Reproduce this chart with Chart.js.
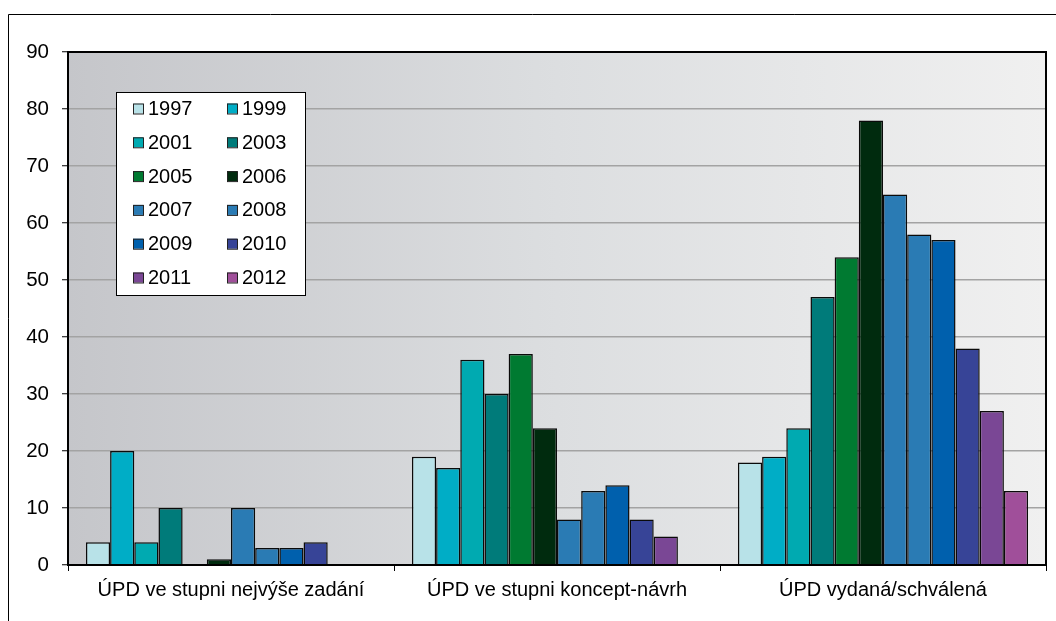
<!DOCTYPE html>
<html>
<head>
<meta charset="utf-8">
<script src="https://cdn.jsdelivr.net/npm/chart.js@4"></script>
<style>
  html, body { margin: 0; padding: 0; background: #fff; }
  #wrap { position: relative; width: 1056px; height: 621px; }
</style>
</head>
<body>
<div id="wrap"><canvas id="chart" width="1056" height="621"></canvas></div>
<script>
// Stav ÚPD podle let
const categories = ['ÚPD ve stupni nejvýše zadání', 'ÚPD ve stupni koncept-návrh', 'ÚPD vydaná/schválená'];
const years = ['1997', '1999', '2001', '2003', '2005', '2006', '2007', '2008', '2009', '2010', '2011', '2012'];
const zadani  = [4, 20, 4, 10, 0, 1, 10, 3, 3, 4, 0, 0];
const koncept = [19, 17, 36, 30, 37, 24, 8, 13, 14, 8, 5, 0];
const vydana  = [18, 19, 24, 47, 54, 78, 65, 58, 57, 38, 27, 13];
const yTicks = [0, 10, 20, 30, 40, 50, 60, 70, 80, 90];

const colors = ['#b8e2e8', '#00adc6', '#00aab1', '#007b7a', '#007a31', '#002b0e',
                '#2a7bb4', '#2a7bb4', '#0060ad', '#374497', '#7a4795', '#a04f9a'];

const datasets = years.map((y, i) => ({
  label: y,
  data: [zadani[i], koncept[i], vydana[i]],
  backgroundColor: colors[i],
  borderColor: '#0a0a0a',
  borderWidth: 1.5,
  borderSkipped: 'bottom',
  categoryPercentage: 0.89,
  barPercentage: 1.0
}));

const FONT = 'Arial, "Liberation Sans", sans-serif';

// pozadí, rámeček a legenda
const decor = {
  id: 'decor',
  beforeDraw(chart) {
    const { ctx, chartArea: a } = chart;
    ctx.save();
    // outer frame
    ctx.strokeStyle = '#000';
    ctx.lineWidth = 1;
    ctx.beginPath();
    ctx.moveTo(8.5, 630);
    ctx.lineTo(8.5, 14.5);
    ctx.lineTo(1070, 14.5);
    ctx.stroke();
    // plot background gradient
    const g = ctx.createLinearGradient(a.left, 0, a.right, 0);
    g.addColorStop(0, '#c5c6ca');
    g.addColorStop(0.5, '#dcdee0');
    g.addColorStop(1, '#f0f0f0');
    ctx.fillStyle = g;
    ctx.fillRect(a.left, a.top, a.right - a.left, a.bottom - a.top);
    ctx.restore();
  },
  afterDraw(chart) {
    const { ctx, chartArea: a } = chart;
    ctx.save();
    ctx.strokeStyle = '#000';
    ctx.lineWidth = 2;
    ctx.strokeRect(a.left, a.top, a.right - a.left, a.bottom - a.top);

    // legend box
    const lx = 116.5, ly = 92.5, lw = 189, lh = 203;
    ctx.fillStyle = '#fff';
    ctx.fillRect(lx, ly, lw, lh);
    ctx.lineWidth = 1;
    ctx.strokeStyle = '#000';
    ctx.strokeRect(lx, ly, lw, lh);
    ctx.font = '20px ' + FONT;
    ctx.textBaseline = 'middle';
    ctx.textAlign = 'left';
    chart.data.datasets.forEach((ds, i) => {
      const col = i % 2, row = Math.floor(i / 2);
      const sx = col === 0 ? 133 : 227;
      const cy = 108.5 + row * 33.8;
      ctx.fillStyle = ds.backgroundColor;
      ctx.fillRect(sx, cy - 5, 10, 10);
      ctx.strokeStyle = '#222';
      ctx.strokeRect(sx + 0.5, cy - 4.5, 10, 10);
      ctx.fillStyle = '#000';
      ctx.fillText(ds.label, sx + 15, cy + 1);
    });
    ctx.restore();
  }
};

new Chart(document.getElementById('chart'), {
  type: 'bar',
  data: { labels: categories, datasets: datasets },
  options: {
    responsive: false,
    animation: false,
    layout: { padding: { left: 0, top: 52, right: 10, bottom: 0 } },
    plugins: { legend: { display: false }, tooltip: { enabled: false } },
    scales: {
      x: {
        offset: true,
        grid: { offset: true, drawOnChartArea: false, tickLength: 6, tickColor: '#000', tickWidth: 1 },
        border: { color: '#000', width: 2 },
        ticks: { color: '#000', font: { family: FONT, size: 20 }, padding: 7, maxRotation: 0 },
        afterFit(scale) { scale.height = 56; }
      },
      y: {
        min: 0,
        max: 90,
        afterBuildTicks(scale) { scale.ticks = yTicks.map(v => ({ value: v })); },
        grid: { color: '#a3a3a3', lineWidth: 1.5, tickLength: 6, tickColor: '#000', tickWidth: 1 },
        border: { color: '#000', width: 2 },
        ticks: { color: '#000', font: { family: FONT, size: 20.5 }, padding: 13 },
        afterFit(scale) { scale.width = 68; }
      }
    }
  },
  plugins: [decor]
});
</script>
</body>
</html>
